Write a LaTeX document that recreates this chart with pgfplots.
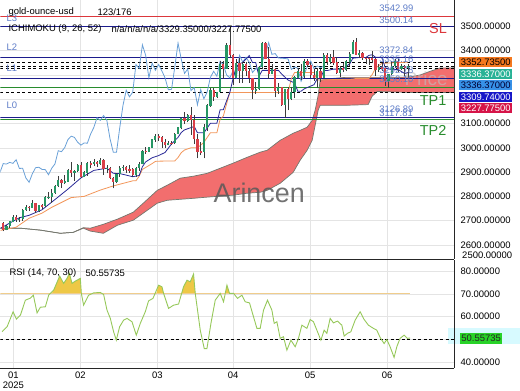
\documentclass[border=0pt]{standalone}
\usepackage{fontspec}
\setmainfont{Liberation Sans}
\usepackage{pgfplots}
\usepackage{pgfplotstable}
\pgfplotsset{compat=1.18}

\definecolor{navyl}{RGB}{28,28,140}
\definecolor{candleG}{RGB}{38,150,100}
\definecolor{candleR}{RGB}{218,62,72}
\definecolor{wick}{RGB}{60,60,60}
\definecolor{chik}{RGB}{105,160,215}
\definecolor{kij}{RGB}{242,150,90}
\definecolor{tenk}{RGB}{40,40,150}
\definecolor{cloudR}{RGB}{242,110,110}
\definecolor{cloudE}{RGB}{115,120,110}
\definecolor{lvl}{RGB}{95,125,200}
\definecolor{tpg}{RGB}{40,140,45}
\definecolor{slr}{RGB}{220,55,60}
\definecolor{gridc}{RGB}{228,228,228}
\definecolor{rsig}{RGB}{150,200,90}
\definecolor{obf}{RGB}{238,200,70}
\definecolor{l70}{RGB}{240,205,140}
\definecolor{bxo}{RGB}{245,120,30}
\definecolor{bxt}{RGB}{40,178,150}
\definecolor{bxb}{RGB}{55,145,232}
\definecolor{bxn}{RGB}{22,22,200}
\definecolor{bxc}{RGB}{214,20,72}
\definecolor{bxg}{RGB}{40,210,40}
\definecolor{bxcy}{RGB}{215,250,255}

\tikzset{
  lvllab/.style={text=lvl, anchor=west, inner sep=0pt, font=\fontsize{9.5}{11}\selectfont},
  bx/.style={anchor=west, inner sep=1.2bp, minimum height=10bp, minimum width=53bp, font=\fontsize{9.5}{11}\selectfont},
  big/.style={inner sep=0pt, font=\fontsize{14.5}{16}\selectfont}
}

% g = 1 for a rising candle, r = 1 for a falling one
\pgfplotstableread{
i o h l c g r
0 2690 2693 2656 2662 nan 1
1 2662 2683 2660 2677 1 nan
2 2677 2700 2670 2697 1 nan
3 2697 2725 2693 2715 1 nan
4 2715 2722 2696 2702 nan 1
5 2702 2714 2695 2708 1 nan
6 2708 2746 2700 2745 1 nan
7 2745 2763 2740 2755 1 nan
8 2755 2759 2741 2754 nan 1
9 2754 2786 2752 2770 1 nan
10 2770 2772 2730 2740 nan 1
11 2740 2765 2735 2763 1 nan
12 2763 2770 2750 2760 nan 1
13 2760 2800 2755 2795 1 nan
14 2795 2817 2790 2798 1 nan
15 2798 2830 2772 2815 1 nan
16 2815 2845 2810 2842 1 nan
17 2842 2882 2840 2866 1 nan
18 2866 2870 2834 2856 nan 1
19 2856 2887 2853 2861 1 nan
20 2861 2911 2860 2907 1 nan
21 2907 2942 2880 2897 nan 1
22 2897 2909 2864 2904 1 nan
23 2904 2935 2900 2928 1 nan
24 2928 2943 2877 2882 nan 1
25 2882 2905 2880 2898 1 nan
26 2898 2940 2885 2935 1 nan
27 2935 2947 2915 2933 nan 1
28 2933 2955 2925 2940 1 nan
29 2940 2945 2920 2936 nan 1
30 2936 2956 2930 2951 1 nan
31 2951 2953 2890 2915 nan 1
32 2915 2930 2895 2916 1 nan
33 2916 2919 2870 2876 nan 1
34 2876 2880 2833 2858 nan 1
35 2858 2895 2855 2893 1 nan
36 2893 2927 2880 2918 1 nan
37 2918 2930 2905 2920 1 nan
38 2920 2925 2895 2911 nan 1
39 2911 2930 2897 2910 nan 1
40 2910 2915 2880 2889 nan 1
41 2889 2920 2880 2916 1 nan
42 2916 2940 2906 2934 1 nan
43 2934 2990 2932 2988 1 nan
44 2988 3005 2976 2984 nan 1
45 2984 3004 2982 3001 1 nan
46 3001 3038 2999 3034 1 nan
47 3034 3055 3025 3048 1 nan
48 3048 3057 3030 3043 nan 1
49 3043 3047 2999 3023 nan 1
50 3023 3036 3000 3011 nan 1
51 3011 3030 3010 3020 1 nan
52 3020 3030 3012 3019 nan 1
53 3019 3060 3015 3057 1 nan
54 3057 3087 3055 3084 1 nan
55 3084 3128 3076 3124 1 nan
56 3124 3149 3100 3113 nan 1
57 3113 3140 3105 3133 1 nan
58 3133 3167 3054 3114 nan 1
59 3114 3135 3015 3037 nan 1
60 3037 3055 2957 2982 nan 1
61 2986 3022 2970 2982 nan 1
62 2982 3100 2957 3083 1 nan
63 3083 3180 3070 3175 1 nan
64 3175 3245 3170 3237 1 nan
65 3237 3245 3193 3210 nan 1
66 3210 3230 3205 3229 1 nan
67 3229 3357 3228 3343 1 nan
68 3343 3357 3284 3327 nan 1
69 3327 3430 3325 3424 1 nan
70 3424 3500 3368 3381 nan 1
71 3381 3386 3260 3288 nan 1
72 3288 3367 3287 3349 1 nan
73 3349 3370 3266 3319 nan 1
74 3319 3352 3268 3343 1 nan
75 3343 3353 3295 3317 nan 1
76 3317 3327 3268 3288 nan 1
77 3288 3289 3202 3239 nan 1
78 3239 3270 3222 3241 1 nan
79 3241 3336 3238 3333 1 nan
80 3333 3436 3324 3431 1 nan
81 3431 3437 3364 3365 nan 1
82 3365 3414 3285 3306 nan 1
83 3306 3345 3302 3325 1 nan
84 3325 3328 3208 3236 nan 1
85 3236 3265 3222 3248 1 nan
86 3248 3252 3172 3177 nan 1
87 3177 3240 3121 3240 1 nan
88 3240 3252 3154 3202 nan 1
89 3202 3250 3196 3230 1 nan
90 3230 3295 3205 3290 1 nan
91 3290 3325 3285 3315 1 nan
92 3315 3345 3278 3295 nan 1
93 3295 3366 3287 3357 1 nan
94 3357 3365 3332 3342 nan 1
95 3342 3350 3286 3300 nan 1
96 3300 3325 3277 3288 nan 1
97 3288 3330 3245 3317 1 nan
98 3317 3325 3271 3289 nan 1
99 3289 3392 3287 3381 1 nan
100 3381 3392 3343 3353 nan 1
101 3353 3385 3345 3373 1 nan
102 3373 3403 3340 3352 nan 1
103 3352 3376 3306 3310 nan 1
104 3310 3338 3293 3326 1 nan
105 3326 3349 3311 3322 nan 1
106 3322 3360 3315 3355 1 nan
107 3355 3395 3336 3387 1 nan
108 3387 3446 3385 3433 1 nan
109 3433 3451 3385 3385 nan 1
110 3385 3403 3368 3388 1 nan
111 3388 3395 3362 3370 nan 1
112 3370 3375 3347 3369 nan 1
113 3369 3375 3340 3368 nan 1
114 3368 3397 3348 3366 nan 1
115 3366 3370 3295 3323 nan 1
116 3323 3347 3312 3333 1 nan
117 3333 3350 3318 3328 nan 1
118 3328 3329 3255 3274 nan 1
119 3274 3304 3247 3303 1 nan
120 3303 3358 3298 3338 1 nan
121 3338 3365 3330 3357 1 nan
122 3357 3366 3311 3326 nan 1
123 3326 3345 3322 3337 1 nan
124 3337 3342 3296 3330 nan 1
125 3330 3345 3287 3336.37 1 nan
}\candles

\pgfplotstableread{
i v
-0.8 2669
2 2690
5 2712
8 2722
12 2745
16 2787
20 2830
24 2876
28 2907
32 2916
34 2895
36 2894
40 2881
42 2886
43 2922
44 2942
46 2959
48 2968
50 2981
52 3016
54 3043
55 3063
56 3074
58 3083
59 3088
60 3062
62 3062
64 3101
66 3101
67 3157
68 3157
69 3193
70 3228
71 3285
72 3335
73 3346
74 3352
76 3380
77 3351
78 3351
79 3294
80 3319
85 3319
86 3304
88 3279
90 3267
91 3233
92 3233
93 3243
96 3260
97 3285
98 3285
99 3318
100 3318
102 3324
105 3324
106 3337
107 3345
108 3369
110 3372
112 3372
113 3381
114 3383
115 3373
117 3373
118 3329
120 3322
122 3322
124 3306
125 3309.74
}\tenkan

\pgfplotstableread{
i v
-0.8 2660
4 2673
8 2710
12 2731
15 2755
18 2775
21 2795
25 2800
30 2826
34 2843
40 2864
41 2864
42 2883
43 2911
44 2919
46 2935
47 2944
48 2945
53 2946
54 2960
55 2980
56 2991
58 3000
60 3000
61 3011
62 3023
64 3062
66 3062
67 3118
68 3131
69 3181
70 3228
88 3228
89 3285
90 3310
96 3310
97 3279
108 3283
109 3286
113 3286
114 3302
115 3328
117 3348
125 3352.73
}\kijun

% cloud edges: a = leading span, b = lagging span
\pgfplotstableread{
x a b
0 2669 2669
20 2669 2669
40 2661 2661
60 2648 2648
73 2652 2652
83 2671 2669
90 2669 2657
103 2685 2648
117 2706 2681
133 2735 2702
143 2772 2731
157 2825 2772
167 2846 2784
180 2875 2788
193 2883 2792
207 2895 2797
220 2916 2801
233 2937 2805
247 2961 2813
260 2982 2817
267 2990 2825
280 3031 2854
293 3060 2899
300 3072 2949
307 3085 2990
312 3113 3031
315 3155 3093
318 3216 3155
320 3278 3175
330 3285 3175
345 3290 3175
368 3290 3178
372 3290 3212
377 3290 3232
395 3290 3230
410 3292 3228
420 3300 3228
430 3315 3228
440 3329 3228
454 3329.35 3227.775
}\cloud

% the same cloud as one closed outline (upper edge forward, lower edge back)
\pgfplotstableread{
x y
0 2669
20 2669
40 2661
60 2648
73 2652
83 2671
90 2669
103 2685
117 2706
133 2735
143 2772
157 2825
167 2846
180 2875
193 2883
207 2895
220 2916
233 2937
247 2961
260 2982
267 2990
280 3031
293 3060
300 3072
307 3085
312 3113
315 3155
318 3216
320 3278
330 3285
345 3290
368 3290
372 3290
377 3290
395 3290
410 3292
420 3300
430 3315
440 3329
454 3329.35
454 3227.775
440 3228
430 3228
420 3228
410 3228
395 3230
377 3232
372 3212
368 3178
345 3175
330 3175
320 3175
318 3155
315 3093
312 3031
307 2990
300 2949
293 2899
280 2854
267 2825
260 2817
247 2813
233 2805
220 2801
207 2797
193 2792
180 2788
167 2784
157 2772
143 2731
133 2702
117 2681
103 2648
90 2657
83 2669
73 2652
60 2648
40 2661
20 2669
0 2669
}\cloudpoly

\pgfplotstableread{
x r
1.7 53.3
6.7 55.5
12.7 62.1
16 58.9
20 60.6
25 67.2
30 68.1
33 69.4
36.7 61.6
40 64.1
45 64.3
48.3 69.4
53.3 71.6
59.3 77.8
63.3 74.6
66.7 76.8
69 79.0
71.7 74.6
75 75.6
80 76.8
81 70.2
83.3 65.0
88.3 69.4
93.3 70.4
100 70.6
103.3 69.7
106.7 62.8
110 59.2
113.3 53.3
116 49.6
119.3 55.5
123.3 58.4
126.7 59.2
131.7 57.7
136 51.8
140 57.0
145 62.1
148.3 66.9
152.7 68.0
158.3 73.8
161.7 73.1
163.3 70.2
168.3 63.6
173.3 65.0
178.3 65.5
183.3 73.1
186.7 76.0
190 75.3
193.3 78.7
195 70.2
200 54.0
204 45.9
206.7 45.9
210.7 57.0
215 67.2
220 70.2
223.3 66.5
226.7 73.8
229.3 70.2
233.3 70.2
237.3 68.0
241.7 69.4
245 66.5
249.3 66.0
253.3 59.9
256.7 54.8
260 54.8
263.3 62.8
267.3 67.2
271.7 62.8
274 57.0
276.7 57.7
280 50.4
283.3 51.1
286.7 45.2
290.7 49.6
295 46.7
298.3 50.4
301.7 56.2
306.7 54.8
310 58.7
313.3 57.7
316.7 54.0
320.7 49.6
324 54.0
326.7 52.6
330 59.2
333.3 57.2
337.3 58.0
341.7 56.2
344 51.4
347.3 52.6
350.7 53.3
355 58.4
360 62.1
364 58.7
368.3 56.2
373.3 54.8
376.7 54.0
380 50.8
384 48.1
386.7 49.9
390 46.7
394 42.0
396.7 46.7
400 50.4
404 51.8
407.3 50.4
410 50.56
}\rsi

\begin{document}
\begin{tikzpicture}[font=\fontsize{9.5}{11}\selectfont]
\fill[bxcy] (448bp,46bp) rectangle (520bp,62bp);

% ---------------- main panel
\begin{axis}[at={(0bp,131bp)}, anchor=south west, scale only axis,
  width=454bp, height=259bp,
  xmin=0, xmax=454, ymin=2541.3, ymax=3607.1,
  axis x line*=bottom, axis y line*=right,
  axis line style={draw=black!85, line width=0.8bp},
  major tick length=0pt,
  grid=major, grid style={draw=gridc, line width=0.5bp},
  xtick={80,157,233,310,387}, xticklabels={},
  ytick={2600,2700,2800,2900,3000,3100,3200,3300,3400,3500},
  yticklabels={2600.00000,2700.00000,2800.00000,2900.00000,3000.00000,3100.00000,,,3400.00000,3500.00000},
  tick label style={font=\fontsize{9.5}{11}\selectfont},
  yticklabel style={xshift=3bp}]

% cloud
\addplot[fill=cloudR, draw=none] table[x=x, y=y] {\cloudpoly};
\addplot[draw=cloudE, line width=0.7bp] table[x=x, y=a] {\cloud};
\addplot[draw=cloudE, line width=0.7bp] table[x=x, y=b] {\cloud};

\node[text=black!65, font=\fontsize{27}{30}\selectfont, opacity=0.85] at (axis cs:259,2812.9) {Arincen};
\node[text=black!25, font=\fontsize{19}{22}\selectfont, opacity=0.6] at (axis cs:426,3286) {Price};

% levels
\addplot[slr, line width=0.8bp] coordinates {(0,3542.99) (454,3542.99)};
\addplot[navyl, line width=0.8bp] coordinates {(0,3500.14) (454,3500.14)};
\addplot[navyl, line width=0.8bp] coordinates {(0,3372.84) (454,3372.84)};
\addplot[black, line width=0.6bp, dash pattern=on 3bp off 2.5bp] coordinates {(0,3352.735) (454,3352.735)};
\addplot[black, line width=0.6bp, dash pattern=on 3bp off 2.5bp] coordinates {(0,3336.37) (454,3336.37)};
\addplot[black, line width=0.6bp, dash pattern=on 3bp off 2.5bp] coordinates {(0,3329.35) (454,3329.35)};
\addplot[navyl, line width=0.8bp] coordinates {(0,3285) (454,3285)};
\addplot[tpg, line width=0.8bp] coordinates {(0,3249) (454,3249)};
\addplot[black, line width=0.6bp, dash pattern=on 3bp off 2.5bp] coordinates {(0,3227.775) (454,3227.775)};
\addplot[navyl, line width=0.8bp] coordinates {(0,3126.89) (454,3126.89)};
\addplot[tpg, line width=0.8bp] coordinates {(0,3117.81) (454,3117.81)};

% chikou, kijun, tenkan
\addplot[chik, line width=0.8bp] table[x expr=2.8+3.24*(\thisrow{i}-26), y=c] {\candles};
\addplot[kij, line width=0.8bp] table[x expr=2.8+3.24*\thisrow{i}, y=v] {\kijun};
\addplot[tenk, line width=0.8bp] table[x expr=2.8+3.24*\thisrow{i}, y=v] {\tenkan};

% candles: wicks
\addplot[draw=none, mark=none, error bars/.cd, y dir=plus, y explicit, error mark=none,
  error bar style={draw=wick, line width=0.6bp}]
  table[x expr=2.8+3.24*\thisrow{i}, y=l, y error expr=\thisrow{h}-\thisrow{l}] {\candles};
% candles: rising bodies
\addplot[draw=none, mark=none, error bars/.cd, y dir=both, y explicit, error mark=none,
  error bar style={draw=candleG, line width=2.2bp}]
  table[x expr=2.8+3.24*\thisrow{i}, y expr=\thisrow{g}*(\thisrow{o}+\thisrow{c})/2, y error expr=abs(\thisrow{c}-\thisrow{o})/2+0.8] {\candles};
% candles: falling bodies
\addplot[draw=none, mark=none, error bars/.cd, y dir=both, y explicit, error mark=none,
  error bar style={draw=candleR, line width=2.2bp}]
  table[x expr=2.8+3.24*\thisrow{i}, y expr=\thisrow{r}*(\thisrow{o}+\thisrow{c})/2, y error expr=abs(\thisrow{c}-\thisrow{o})/2+0.8] {\candles};

% anchors for labels
\coordinate (q1) at (axis cs:379,3574.2);
\coordinate (q2) at (axis cs:379,3524.8);
\coordinate (q3) at (axis cs:379,3401.4);
\coordinate (q4) at (axis cs:379,3364.3);
\coordinate (q5) at (axis cs:379,3319.1);
\coordinate (q6) at (axis cs:379,3282.1);
\coordinate (q7) at (axis cs:379,3158.6);
\coordinate (q8) at (axis cs:379,3144.0);
\coordinate (la) at (axis cs:6,3533.1);
\coordinate (lb) at (axis cs:6,3413.7);
\coordinate (lc) at (axis cs:6,3327.3);
\coordinate (ld) at (axis cs:6,3175.1);
\coordinate (sl) at (axis cs:438,3491.9);
\coordinate (t1) at (axis cs:433,3195.6);
\coordinate (t2) at (axis cs:433,3072.2);
\coordinate (b1) at (axis cs:459,3354.0);
\coordinate (b2) at (axis cs:459,3304.7);
\coordinate (b3) at (axis cs:459,3257.0);
\coordinate (b4) at (axis cs:459,3210.0);
\coordinate (b5) at (axis cs:459,3162.7);
\end{axis}

% ---------------- RSI panel
\begin{axis}[at={(0bp,22bp)}, anchor=south west, scale only axis,
  width=454bp, height=108bp,
  xmin=0, xmax=454, ymin=37.3, ymax=84.8,
  axis x line*=bottom, axis y line*=right,
  axis line style={draw=black!85, line width=0.8bp},
  major tick length=0pt,
  grid=major, grid style={draw=gridc, line width=0.5bp},
  xtick={13,80,157,233,310,387}, xticklabels={01,02,03,04,05,06},
  ytick={40,50,60,70,80}, yticklabels={40.00000,,60.00000,70.00000,80.00000},
  tick label style={font=\fontsize{9.5}{11}\selectfont},
  yticklabel style={xshift=3bp}]

\addplot[fill=obf, draw=none] coordinates {(51.2,70) (53.3,71.6) (59.3,77.8) (63.3,74.6) (66.7,76.8) (69,79.0) (71.7,74.6) (75,75.6) (80,76.8) (81,70.2) (81.1,70)};
\addplot[fill=obf, draw=none] coordinates {(90.5,70) (93.3,70.4) (100,70.6) (102.3,70)};
\addplot[fill=obf, draw=none] coordinates {(155.9,70) (158.3,73.8) (161.7,73.1) (163.3,70.2) (163.5,70)};
\addplot[fill=obf, draw=none] coordinates {(181,70) (183.3,73.1) (186.7,76.0) (190,75.3) (193.3,78.7) (195,70.2) (195.1,70)};
\addplot[fill=obf, draw=none] coordinates {(225,70) (226.7,73.8) (229.3,70.2) (233.3,70.2) (234,70)};

\addplot[l70, line width=0.9bp] coordinates {(0,70) (410,70)};
\addplot[black, line width=0.6bp, dash pattern=on 3bp off 2.5bp] coordinates {(0,50) (454,50)};
\addplot[rsig, line width=0.9bp] table[x=x, y=r] {\rsi};
\end{axis}

% ---------------- labels placed at the axis anchors
\node[lvllab] at (q1) {3542.99};
\node[lvllab] at (q2) {3500.14};
\node[lvllab] at (q3) {3372.84};
\node[lvllab] at (q4) {3335.16};
\node[lvllab] at (q5) {3292.78};
\node[lvllab] at (q6) {3250.10};
\node[lvllab] at (q7) {3126.89};
\node[lvllab] at (q8) {3117.81};
\node[lvllab] at (la) {L3};
\node[lvllab] at (lb) {L2};
\node[lvllab] at (lc) {L1};
\node[lvllab] at (ld) {L0};
\node[big, text=slr] at (sl) {SL};
\node[big, text=tpg] at (t1) {TP1};
\node[big, text=tpg] at (t2) {TP2};
\node[bx, fill=bxo, text=black] at (b1) {3352.73500};
\node[bx, fill=bxt, text=white] at (b2) {3336.37000};
\node[bx, fill=bxb, text=black!80!blue] at (b3) {3336.37000};
\node[bx, fill=bxn, text=white] at (b4) {3309.74000};
\node[bx, fill=bxc, text=white] at (b5) {3227.77500};

% ---------------- texts
\node[anchor=west, inner sep=0pt] at (8bp,378bp) {gold-ounce-usd};
\node[anchor=west, inner sep=0pt] at (97bp,378bp) {123/176};
\node[anchor=west, inner sep=0pt] at (8bp,361bp) {ICHIMOKU (9, 26, 52)};
\node[anchor=west, inner sep=0pt] at (111bp,361bp) {n/a/n/a/n/a/3329.35000/3227.77500};
\node[anchor=west, inner sep=0pt] at (9bp,117bp) {RSI (14, 70, 30)};
\node[anchor=west, inner sep=0pt] at (85bp,117bp) {50.55735};
\node[anchor=west, inner sep=0pt] at (462bp,135bp) {2500.00000};
\node[anchor=west, fill=bxg, text=black!85, inner sep=1.2bp, minimum height=11bp] at (460bp,51.7bp) {50.55735};
\node[inner sep=0pt] at (13bp,4.5bp) {2025};
\path (0bp,0bp) rectangle (520bp,390bp);
\end{tikzpicture}
\end{document}
